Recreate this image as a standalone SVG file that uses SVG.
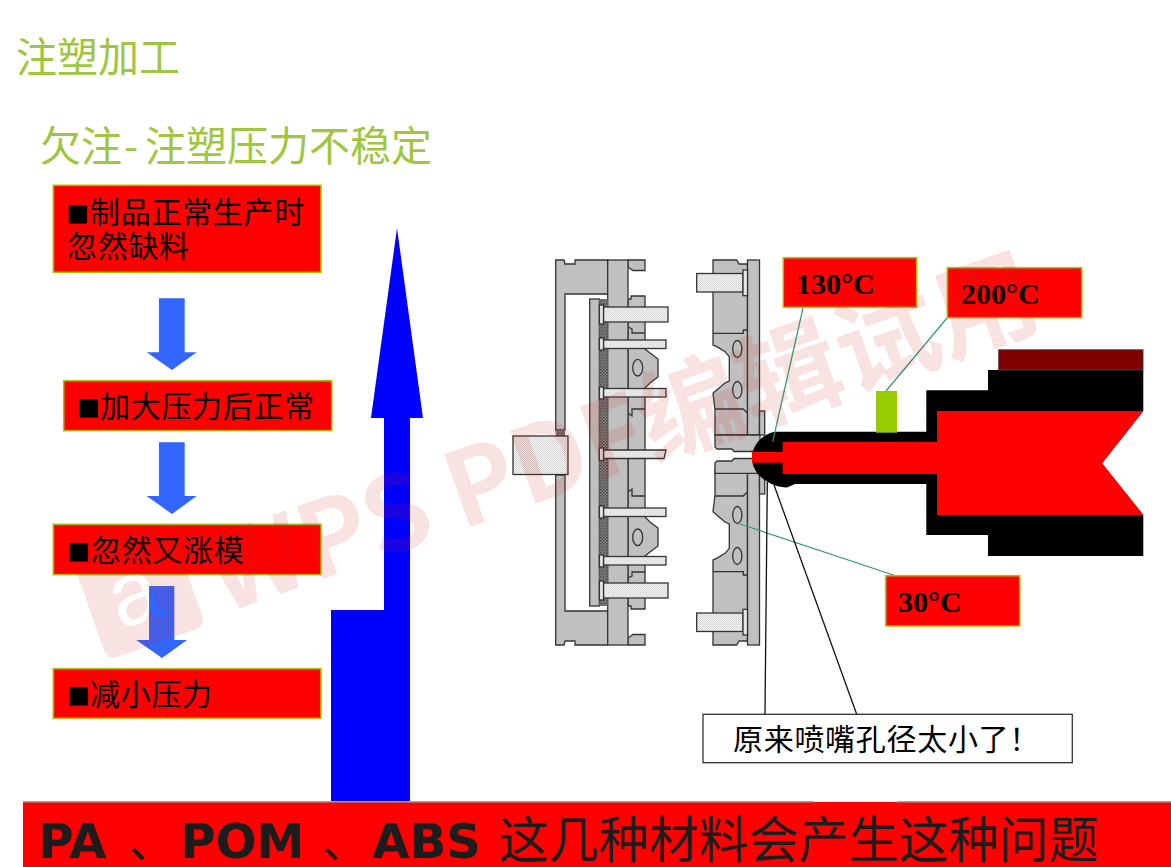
<svg xmlns="http://www.w3.org/2000/svg" width="1171" height="867" viewBox="0 0 1171 867">
<style>
text{font-family:"Noto Sans CJK SC","Liberation Sans",sans-serif}
.title{fill:#9fc63f;font-size:41px}
.box{fill:#f00;stroke:#a6c400;stroke-width:1.6}
.lbl{font-size:30px;fill:#000;letter-spacing:.7px}
.sq{font-size:23px}
.temp{font-family:"Liberation Serif",serif;font-weight:bold;fill:#000;font-size:30px}
.flow{fill:#36f}
.m{fill:#c0c0c0;stroke:#333;stroke-width:1.3}
.ml{fill:none;stroke:#333;stroke-width:1.3}
.pin{fill:url(#light);stroke:#333;stroke-width:1.3}
.dot{fill:url(#dark)}
.lead{fill:none;stroke:#2f9a6c;stroke-width:1.2}
.blk{fill:none;stroke:#111;stroke-width:1.3}
.wm{fill:#c82020;fill-opacity:.13}
.lat{font-family:"DejaVu Sans",sans-serif;font-weight:bold}
</style>
<defs>
<pattern id="light" width="2" height="2" patternUnits="userSpaceOnUse"><rect width="2" height="2" fill="#f2f2f2"/><rect width="1" height="1" fill="#d4d4d4"/><rect x="1" y="1" width="1" height="1" fill="#dcdcdc"/></pattern>
<pattern id="dark" width="3" height="3" patternUnits="userSpaceOnUse"><rect width="3" height="3" fill="#8a8a8a"/><rect width="1.500" height="1.500" fill="#444"/><rect x="1.500" y="1.500" width="1.500" height="1.500" fill="#555"/></pattern>
<g id="moldHalf">
<path class="m" d="M555.700 430V260H564L565 264H575V260H607.700V294H565V430Z"/>
<rect class="dot" x="555.700" y="430" width="9.300" height="7"/>
<path class="m" d="M628 260H645V270.500H633L628 267Z"/>
<path class="m" d="M628 299H631V296H645V349L650 353L658 359V377L650 383L645 388V452.500H628Z"/>
<path class="ml" d="M628 327L632 329V333H645M628 413L632 416V409H645"/>
<ellipse class="m" cx="637.700" cy="367.700" rx="5" ry="8.300"/>
<path class="m" d="M713 260H736.700L739 264H747.500V435H715V410L713 393.300L716.700 390L725 383L729.300 381V356.700L725 351.700L716.700 346.700L713 345Z"/>
<path class="ml" d="M713 333.300H743.300V330H747.500M715 409H743L747.500 413"/>
<rect class="m" x="747.500" y="260" width="12" height="175"/>
<rect class="m" x="759.500" y="411" width="5.200" height="24"/>
<ellipse class="m" cx="737.300" cy="349" rx="4.600" ry="8.500"/>
<ellipse class="m" cx="737.300" cy="390" rx="4.600" ry="8.500"/>
<rect class="pin" x="696.700" y="273.500" width="46.300" height="18.500"/>
<rect class="pin" x="743" y="270" width="4.500" height="25.700"/>
</g>
<mask id="logoCut" maskUnits="userSpaceOnUse" x="0" y="0" width="1171" height="867">
<rect width="1171" height="867" fill="#fff"/>
<text transform="translate(120 630) rotate(-19.500)" font-size="90" fill="#000" style="font-family:'Liberation Sans',sans-serif">a</text>
</mask>
</defs>
<rect width="1171" height="867" fill="#fff"/>
<g id="titles">
<text class="title" x="16" y="72">注塑加工</text>
<text class="title" x="40" y="161">欠注<tspan x="124">-</tspan><tspan x="145">注塑压力不稳定</tspan></text>
</g>
<g id="mold">
<use href="#moldHalf"/>
<use href="#moldHalf" transform="matrix(1 0 0 -1 0 905)"/>
<rect class="m" x="607.700" y="260" width="20.300" height="385"/>
<rect class="m" x="589.700" y="299" width="9.700" height="307"/>
<rect class="dot" x="599.400" y="299" width="8.300" height="307"/>
<g id="ejectorPins">
<rect class="pin" x="603.500" y="307" width="64.500" height="15"/>
<rect class="pin" x="599.400" y="305" width="4.100" height="19"/>
<rect class="pin" x="603.500" y="340" width="62.500" height="8.500"/>
<rect class="pin" x="599.400" y="338" width="4.100" height="12"/>
<rect class="pin" x="603.500" y="388.500" width="62.500" height="8.500"/>
<rect class="pin" x="599.400" y="387" width="4.100" height="12"/>
<rect class="pin" x="603.500" y="583" width="64.500" height="15"/>
<rect class="pin" x="599.400" y="581" width="4.100" height="19"/>
<rect class="pin" x="603.500" y="556.500" width="62.500" height="8.500"/>
<rect class="pin" x="599.400" y="555" width="4.100" height="12"/>
<rect class="pin" x="603.500" y="508" width="62.500" height="8.500"/>
<rect class="pin" x="599.400" y="506" width="4.100" height="12"/>
<path class="pin" d="M603.500 450H666L664 458.500H603.500Z"/>
<rect class="pin" x="599.400" y="448" width="4.100" height="12.500"/>
</g>
<rect class="pin" x="513" y="436" width="55" height="38.500"/>
<path class="m" d="M715 435V447L717 449H732L734 451.500H760V435Z"/>
<path class="m" d="M715 473.300V463L717 461H732L734 458.500H760V473.300Z"/>
</g>
<g id="injector">
<path fill="#000" d="M752 458C752 445 762 434 775 431.700H926.300V390.300H988V370H1143.300V411L1102 463.300L1143.300 515V556H988V535H926.300V484H795L787 487.500C770 487 752 475 752 458Z"/>
<rect x="998.700" y="349.800" width="144.300" height="20.200" fill="#800000" stroke="#444" stroke-width="1"/>
<path fill="#f00" d="M752 452H782.700V441.700H937V411H1143.300L1102 463.300L1143.300 515H937V474H782.700V462.700H752Z"/>
<rect x="876" y="391" width="21" height="41.700" fill="#9c0"/>
</g>
<g id="connectors">
<path class="lead" d="M803 308L772.700 441.700"/>
<path class="lead" d="M947 318L886 391"/>
<path class="lead" d="M895.700 575.700L740 524"/>
<path class="blk" d="M767.300 481.700L765 714.300"/>
<path class="blk" d="M774 485L856.700 714.300"/>
</g>
<g id="pressureArrow"><path fill="#00f" d="M331 802V610H384V418H371L397 228L423 418H410V802Z"/></g>
<g id="flowArrows">
<path class="flow" d="M159 298.300H184.700V352.300H196.700L172 370L146.700 352.300H159Z"/>
<path class="flow" d="M159 442.300H184.700V496H196.700L172 514L146.700 496H159Z"/>
<path class="flow" d="M149 586H174.300V640H187L162 658L136.300 640H149Z"/>
</g>
<g id="step1"><rect class="box" x="53.300" y="185.300" width="267.700" height="87"/><text class="lbl" x="66" y="223"><tspan class="sq">■</tspan><tspan x="90">制品正常生产时</tspan></text><text class="lbl" x="67" y="257">忽然缺料</text></g>
<g id="step2"><rect class="box" x="63.700" y="380.700" width="268" height="50"/><text class="lbl" x="77" y="417"><tspan class="sq">■</tspan><tspan x="100">加大压力后正常</tspan></text></g>
<g id="step3"><rect class="box" x="53.300" y="524.300" width="267.700" height="50.400"/><text class="lbl" x="67" y="561"><tspan class="sq">■</tspan><tspan x="91">忽然又涨模</tspan></text></g>
<g id="step4"><rect class="box" x="53.300" y="668.700" width="267.700" height="49.600"/><text class="lbl" x="67" y="705"><tspan class="sq">■</tspan><tspan x="90">减小压力</tspan></text></g>
<g id="temp130"><rect class="box" x="783.300" y="257.700" width="133.400" height="49.600"/><text class="temp" x="796" y="294">130°C</text></g>
<g id="temp200"><rect class="box" x="947.300" y="267.700" width="134.400" height="50"/><text class="temp" x="961" y="304">200°C</text></g>
<g id="temp30"><rect class="box" x="885.700" y="575.700" width="134" height="50.300"/><text class="temp" x="898" y="612">30°C</text></g>
<g id="callout"><rect x="703" y="714.300" width="369.300" height="48.400" fill="#fff" stroke="#333" stroke-width="1.300"/><text class="lbl" x="733" y="750">原来喷嘴孔径太小了！</text></g>
<g id="banner">
<rect x="23" y="802" width="1148" height="65" fill="#f00"/>
<path d="M23 801.700H814M897 801.700H1171" stroke="#7fb89a" stroke-width="1.500" fill="none"/>
<text y="858" fill="#1c1c1c" font-size="48"><tspan x="38" class="lat">PA</tspan><tspan x="129" font-size="45">、</tspan><tspan x="180" class="lat">POM</tspan><tspan x="322" font-size="45">、</tspan><tspan x="372" class="lat">ABS</tspan><tspan x="499" font-size="50">这几种材料会产生这种问题</tspan></text>
</g>
<g id="watermark">
<g mask="url(#logoCut)"><rect class="wm" x="0" y="0" width="104" height="98" rx="10" transform="translate(75 568) rotate(-19.500)"/></g>
<text class="wm" transform="translate(224 614) rotate(-19.500)" font-size="104" font-weight="bold">WPS PDF编辑试用</text>
</g>
</svg>
